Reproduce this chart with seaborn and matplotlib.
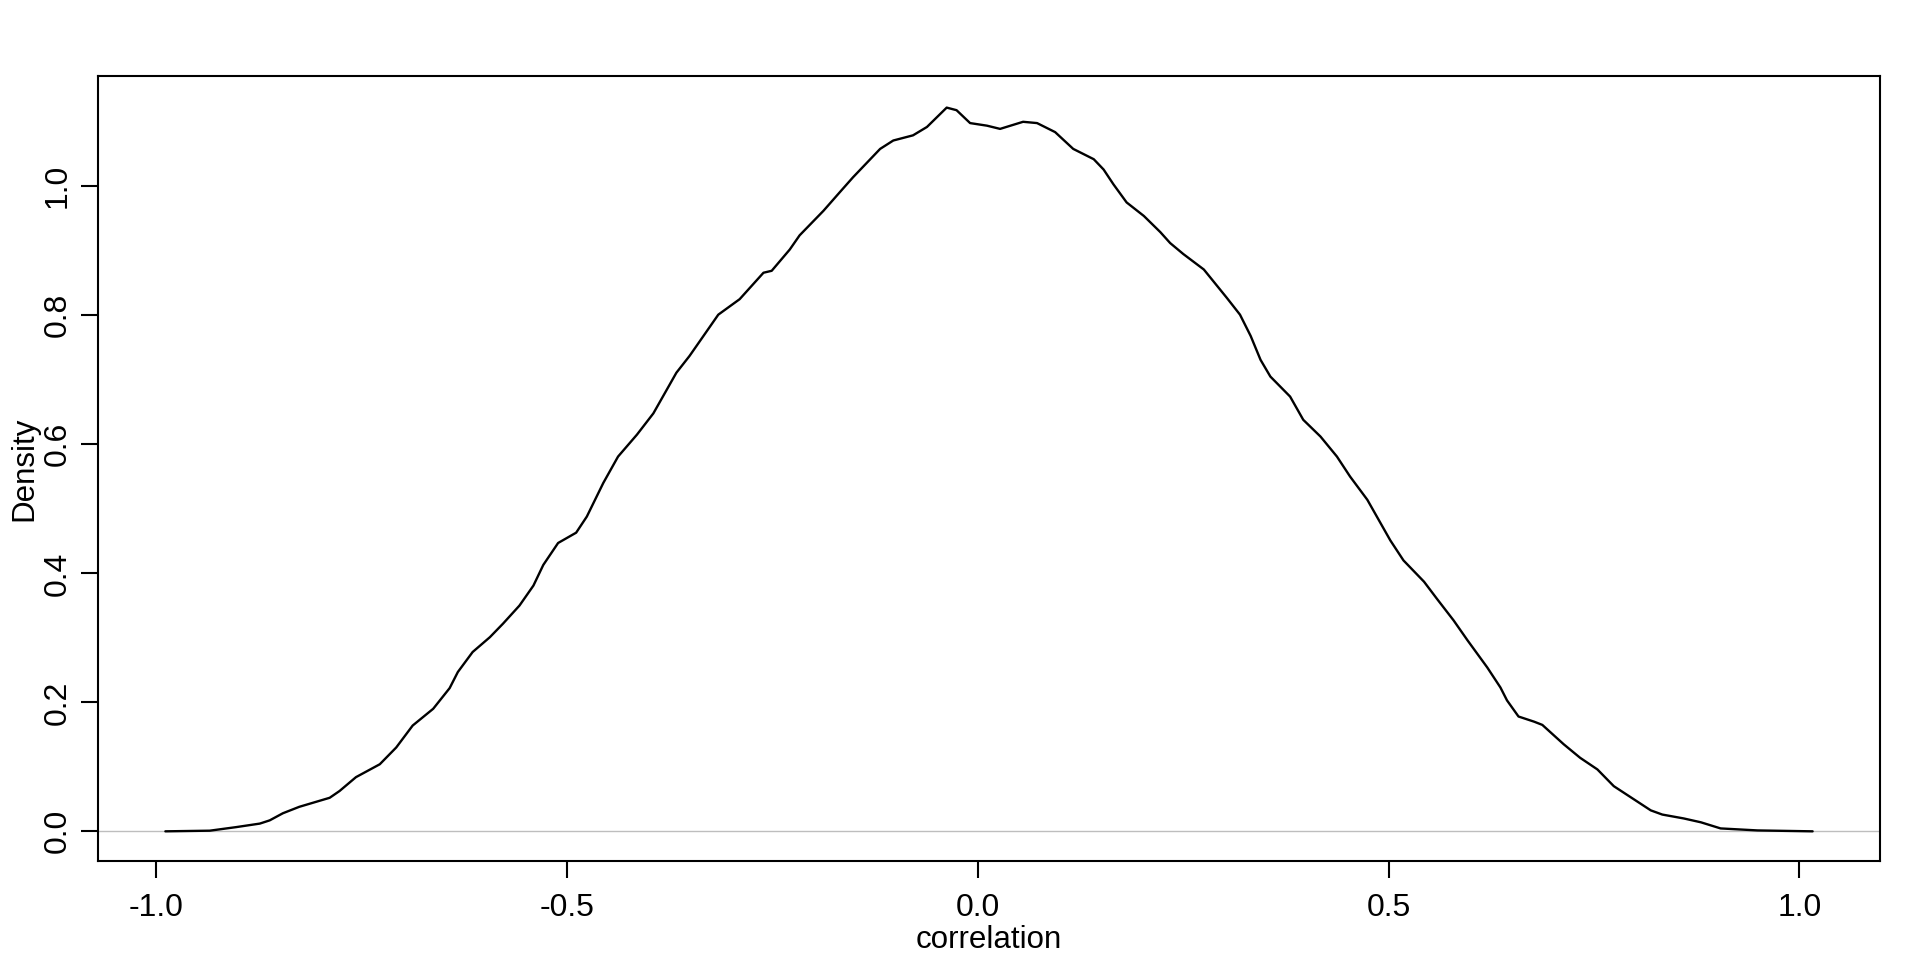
import matplotlib
matplotlib.use("Agg")
import matplotlib.pyplot as plt
import seaborn as sns
import pandas as pd

# Density curve
corr_x = [-0.989, -0.935, -0.903, -0.874, -0.862, -0.846, -0.826, -0.789, -0.777, -0.757,
          -0.728, -0.708, -0.688, -0.663, -0.643, -0.633, -0.615, -0.594, -0.578, -0.558,
          -0.541, -0.529, -0.511, -0.489, -0.476, -0.456, -0.438, -0.415, -0.395, -0.367,
          -0.351, -0.316, -0.290, -0.261, -0.251, -0.229, -0.217, -0.188, -0.168, -0.152,
          -0.119, -0.103, -0.079, -0.062, -0.038, -0.026, -0.0095, 0.011, 0.027, 0.055,
          0.072, 0.094, 0.116, 0.141, 0.153, 0.165, 0.181, 0.202, 0.222, 0.234,
          0.250, 0.275, 0.303, 0.319, 0.332, 0.344, 0.356, 0.380, 0.396, 0.417,
          0.437, 0.453, 0.474, 0.502, 0.518, 0.543, 0.559, 0.579, 0.596, 0.620,
          0.636, 0.644, 0.658, 0.677, 0.687, 0.713, 0.733, 0.754, 0.774, 0.798,
          0.819, 0.833, 0.859, 0.880, 0.904, 0.949, 1.016]
density_y = [0.0, 0.001, 0.0065, 0.012, 0.017, 0.028, 0.038, 0.052, 0.0625, 0.084,
             0.104, 0.130, 0.164, 0.190, 0.222, 0.247, 0.278, 0.301, 0.322, 0.350,
             0.381, 0.413, 0.447, 0.463, 0.488, 0.540, 0.581, 0.615, 0.648, 0.711,
             0.737, 0.801, 0.825, 0.866, 0.869, 0.902, 0.924, 0.962, 0.991, 1.014,
             1.058, 1.071, 1.079, 1.092, 1.122, 1.118, 1.098, 1.094, 1.089, 1.100,
             1.098, 1.084, 1.058, 1.042, 1.026, 1.003, 0.975, 0.954, 0.929, 0.912,
             0.895, 0.871, 0.827, 0.801, 0.768, 0.731, 0.705, 0.674, 0.638, 0.612,
             0.581, 0.550, 0.514, 0.451, 0.420, 0.387, 0.360, 0.327, 0.296, 0.254,
             0.223, 0.203, 0.178, 0.170, 0.165, 0.135, 0.114, 0.096, 0.070, 0.050,
             0.0325, 0.026, 0.020, 0.014, 0.0045, 0.0014, 0.0]

x_ticks = [-1.0, -0.5, 0.0, 0.5, 1.0]
x_tick_labels = ["-1.0", "-0.5", "0.0", "0.5", "1.0"]
y_ticks = [0.0, 0.2, 0.4, 0.6, 0.8, 1.0]
y_tick_labels = ["0.0", "0.2", "0.4", "0.6", "0.8", "1.0"]
x_label = "correlation"
y_label = "Density"

sns.set_theme(style="white")
plt.rcParams["font.family"] = ["Liberation Sans", "DejaVu Sans"]
plt.rcParams["axes.unicode_minus"] = False

fig = plt.figure(figsize=(19.2, 9.6), dpi=100)
ax = fig.add_axes([98 / 1920, 1 - 861 / 960, (1880 - 98) / 1920, (861 - 76) / 960])

df = pd.DataFrame({"x": corr_x, "y": density_y})
ax.axhline(0, color="#BEBEBE", lw=1.0, zorder=1)
sns.lineplot(data=df, x="x", y="y", ax=ax, color="black", lw=1.7,
             sort=False, estimator=None, zorder=2)

ax.set_xlim(-1.071, 1.098)
ax.set_ylim(-0.046, 1.171)

for s in ax.spines.values():
    s.set_visible(True)
    s.set_color("black")
    s.set_linewidth(1.5)

ax.set_xticks(x_ticks)
ax.set_xticklabels(x_tick_labels)
ax.set_yticks(y_ticks)
ax.set_yticklabels(y_tick_labels, rotation=90, va="center")
ax.tick_params(axis="both", which="major", direction="out", length=12, width=1.5,
               color="black", labelsize=23, labelcolor="black",
               bottom=True, left=True, top=False, right=False)
ax.tick_params(axis="x", pad=11)
ax.tick_params(axis="y", pad=6.5)

ax.set_xlabel(x_label, fontsize=22.5, color="black")
ax.set_ylabel(y_label, fontsize=22.5, color="black")
ax.xaxis.set_label_coords(0.5, (861 - 940) / 785)
ax.xaxis.label.set_va("center")
ax.yaxis.set_label_coords((24.5 - 98) / 1782, 0.5)
ax.yaxis.label.set_va("center")

fig.savefig("out.png", dpi=100, facecolor="white")
